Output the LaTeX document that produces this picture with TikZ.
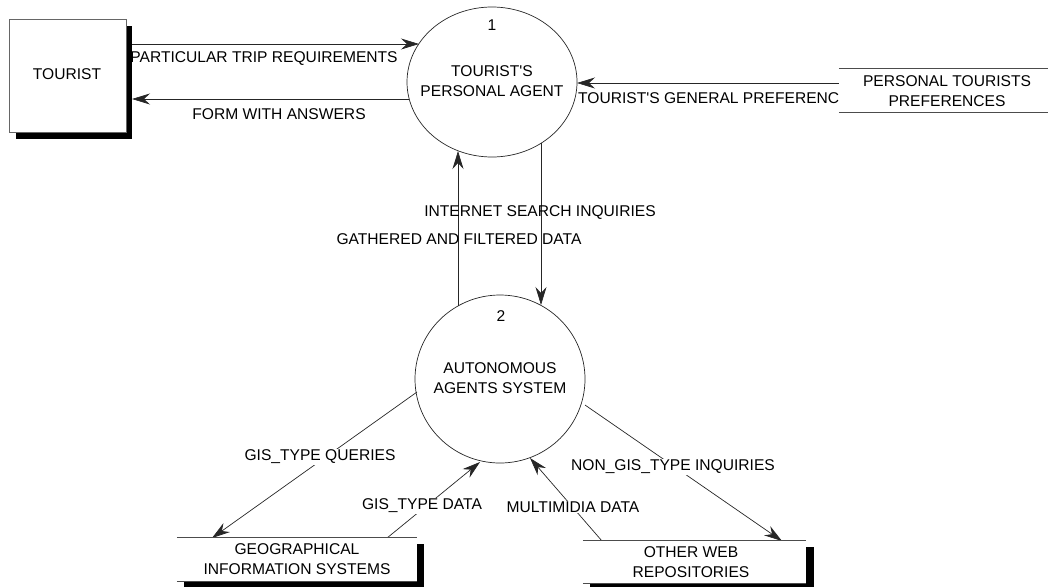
\documentclass[tikz,border=0pt]{standalone}
\usepackage{fontspec}
\setmainfont{Liberation Sans}
\usetikzlibrary{shapes.geometric,arrows.meta}
\begin{document}
\begin{tikzpicture}[x=1pt,y=-1pt,
  txt/.style={font=\fontsize{15.6}{20.5}\selectfont, inner sep=1pt, align=center},
  wtxt/.style={txt, fill=white},
  proc/.style={ellipse, draw=black!85, line width=0.7pt, inner sep=0pt},
  arr/.style={draw=black!85, line width=0.7pt, -{Stealth[length=18pt,width=11pt,inset=6pt]}},
  store/.style={fill=white, inner sep=0pt},
  storeline/.style={draw=black!70, line width=0.8pt},
  shadow/.style={fill=black}]
\useasboundingbox (0,0) rectangle (1048,587);
% tourist entity
\fill[shadow] (16,26) rectangle (132,139);
\node[draw=black!60, fill=white, line width=0.8pt, minimum width=117pt, minimum height=113pt, inner sep=0pt] (tourist) at (67.5,75.5) {};
\node[txt] (touristlbl) at (67,74) {TOURIST};
% process 1
\node[proc, minimum width=170pt, minimum height=150pt] (p1) at (492,82) {};
\node[txt] (p1num) at (492,25) {1};
\node[txt] (p1lbl) at (492,81) {TOURIST\textquotesingle S\\PERSONAL AGENT};
% process 2
\node[proc, minimum width=170pt, minimum height=168pt] (p2) at (500,379) {};
\node[txt] (p2num) at (501,316) {2};
\node[txt] (p2lbl) at (500,378) {AUTONOMOUS\\AGENTS SYSTEM};
% connector endpoints on borders
\coordinate (a1s) at (132,44);  \coordinate (a1e) at (419,44);
\coordinate (a2s) at (409,99);  \coordinate (a2e) at (132,99);
\coordinate (a3s) at (839,83);  \coordinate (a3e) at (577,83);
\coordinate (a4s) at (458,306); \coordinate (a4e) at (458,151);
\coordinate (a5s) at (541,143); \coordinate (a5e) at (541,305);
\coordinate (a6s) at (417,392); \coordinate (a6e) at (212,538);
\coordinate (a7s) at (387,538); \coordinate (a7e) at (480,462);
\coordinate (a8s) at (585,405); \coordinate (a8e) at (782,541);
\coordinate (a9s) at (602,541); \coordinate (a9e) at (530,458);
% connectors
\draw[arr] (a1s) -- (a1e);
\draw[arr] (a2s) -- (a2e);
\draw[arr] (a3s) -- (a3e);
\draw[arr] (a4s) -- (a4e);
\draw[arr] (a5s) -- (a5e);
\draw[arr] (a6s) -- (a6e);
\draw[arr] (a7s) -- (a7e);
\draw[arr] (a8s) -- (a8e);
\draw[arr] (a9s) -- (a9e);
% labels
\node[txt] (l1) at (264,59) {PARTICULAR TRIP REQUIREMENTS};
\node[txt] (l2) at (279,114) {FORM WITH ANSWERS};
\node[txt, anchor=west] (l3) at (577,98) {TOURIST\textquotesingle S GENERAL PREFERENC};
\node[txt] (l4) at (540,213) {INTERNET SEARCH INQUIRIES};
\node[txt] (l5) at (459,239) {GATHERED AND FILTERED DATA};
\node[wtxt] (l6) at (320,457) {GIS\_TYPE QUERIES};
\node[wtxt] (l7) at (422,506) {GIS\_TYPE DATA};
\node[wtxt] (l8) at (673,467) {NON\_GIS\_TYPE INQUIRIES};
\node[wtxt] (l9) at (573,507) {MULTIMIDIA DATA};
% store: personal tourists preferences
\node[store, minimum width=209pt, minimum height=43pt] (ptp) at (943.5,90.5) {};
\draw[storeline] (ptp.north west) -- (ptp.north east);
\draw[storeline] (ptp.south west) -- (ptp.south east);
\node[txt] (ptplbl) at (947,91) {PERSONAL TOURISTS\\PREFERENCES};
% store: GIS
\fill[shadow] (184,544) rectangle (424,587);
\node[store, minimum width=240pt, minimum height=43pt] (gis) at (297,559.5) {};
\draw[storeline] (gis.north west) -- (gis.north east);
\draw[storeline] (gis.south west) -- (gis.south east);
\node[txt] (gislbl) at (297,559) {GEOGRAPHICAL\\INFORMATION SYSTEMS};
% store: other web repositories
\fill[shadow] (590,547) rectangle (814,587);
\node[store, minimum width=223pt, minimum height=42pt] (owr) at (694.5,562) {};
\draw[storeline] (owr.north west) -- (owr.north east);
\draw[storeline] (owr.south west) -- (owr.south east);
\node[txt] (owrlbl) at (691,562) {OTHER WEB\\REPOSITORIES};
\end{tikzpicture}
\end{document}
